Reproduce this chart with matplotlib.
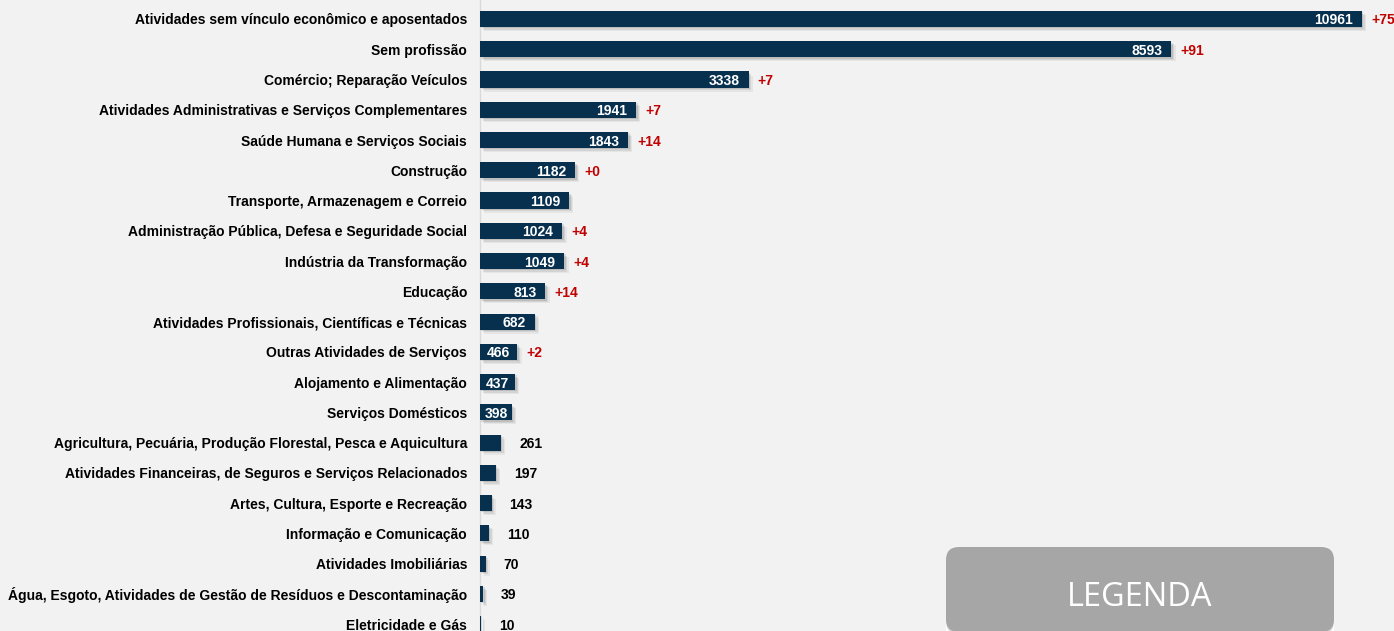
import matplotlib
matplotlib.use("Agg")
import matplotlib.pyplot as plt
import matplotlib.patheffects as pe
from matplotlib.patches import FancyBboxPatch, Rectangle

categories = [
    "Atividades sem vínculo econômico e aposentados",
    "Sem profissão",
    "Comércio; Reparação Veículos",
    "Atividades Administrativas e Serviços Complementares",
    "Saúde Humana e Serviços Sociais",
    "Construção",
    "Transporte, Armazenagem e Correio",
    "Administração Pública, Defesa e Seguridade Social",
    "Indústria da Transformação",
    "Educação",
    "Atividades Profissionais, Científicas e Técnicas",
    "Outras Atividades de Serviços",
    "Alojamento e Alimentação",
    "Serviços Domésticos",
    "Agricultura, Pecuária, Produção Florestal, Pesca e Aquicultura",
    "Atividades Financeiras, de Seguros e Serviços Relacionados",
    "Artes, Cultura, Esporte e Recreação",
    "Informação e Comunicação",
    "Atividades Imobiliárias",
    "Água, Esgoto, Atividades de Gestão de Resíduos e Descontaminação",
    "Eletricidade e Gás",
]
values = [10961, 8593, 3338, 1941, 1843, 1182, 1109, 1024, 1049, 813, 682,
          466, 437, 398, 261, 197, 143, 110, 70, 39, 10]
changes = ["+75", "+91", "+7", "+7", "+14", "+0", "", "+4", "+4", "+14", "",
           "+2", "", "", "", "", "", "", "", "", ""]

W, H, DPI = 1394, 631, 100
BG = "#F2F2F2"
BAR = "#07304F"
RED = "#C00000"
FONT = ["Liberation Sans", "DejaVu Sans"]

fig = plt.figure(figsize=(W / DPI, H / DPI), dpi=DPI, facecolor=BG)
left = 480 / W
ax = fig.add_axes([left, 0, 1 - left, 1], facecolor=BG)

pxu = 882 / 10961  # pixels per unit
ax.set_xlim(0, (W - 480) / pxu)
ax.set_ylim(20.23, -0.628)

soft_shadow = [
    pe.SimplePatchShadow(offset=(3, -3), shadow_rgbFace="#000000", alpha=0.05),
    pe.SimplePatchShadow(offset=(2, -2), shadow_rgbFace="#000000", alpha=0.08),
    pe.SimplePatchShadow(offset=(1, -1), shadow_rgbFace="#000000", alpha=0.10),
    pe.Normal(),
]

ys = list(range(len(categories)))
bars = ax.barh(ys, values, height=0.53, color=BAR, zorder=3)
for b in bars:
    b.set_path_effects(soft_shadow)

ax.set_yticks(ys)
ax.set_yticklabels(categories, fontfamily=FONT, fontweight="bold", fontsize=10, color="#000000")
ax.tick_params(axis="y", length=0, pad=13 * 0.72)
ax.set_xticks([])
for s in ["top", "right", "bottom"]:
    ax.spines[s].set_visible(False)
ax.spines["left"].set_color("#D9D9D9")
ax.spines["left"].set_linewidth(1.0)

pt = 0.72  # points per pixel
for i, (v, c) in enumerate(zip(values, changes)):
    barpx = v * pxu
    if v >= 398:
        tw = len(str(v)) * 7.7
        off = min(9, (barpx - tw) / 2)
        ax.annotate(str(v), xy=(v, i), xytext=(-off * pt, 0), textcoords="offset points",
                    ha="right", va="center_baseline", color="white", fontweight="bold",
                    fontsize=10, fontfamily=FONT, zorder=5)
    else:
        ax.annotate(str(v), xy=(v, i), xytext=(18 * pt, 0), textcoords="offset points",
                    ha="left", va="center_baseline", color="#000000", fontweight="bold",
                    fontsize=10, fontfamily=FONT, zorder=5)
    if c:
        ax.annotate(c, xy=(v, i), xytext=(9 * pt, 0), textcoords="offset points",
                    ha="left", va="center_baseline", color=RED, fontweight="bold",
                    fontsize=10, fontfamily=FONT, zorder=5, annotation_clip=False)

# overlay for legend box
ov = fig.add_axes([0, 0, 1, 1], facecolor="none")
ov.set_xlim(0, W)
ov.set_ylim(H, 0)
ov.axis("off")
ov.add_patch(Rectangle((946, 620), 388, 14, facecolor="white", edgecolor="none", zorder=1))
box = FancyBboxPatch((946, 547), 388, 85, boxstyle="round,pad=0,rounding_size=13",
                     facecolor="#A6A6A6", edgecolor="none", zorder=2)
box.set_path_effects([
    pe.SimplePatchShadow(offset=(0, -2), shadow_rgbFace="#000000", alpha=0.08),
    pe.SimplePatchShadow(offset=(0, -1), shadow_rgbFace="#000000", alpha=0.10),
    pe.Normal()])
ov.add_patch(box)
ov.text(1140, 593, "LEGENDA", ha="center", va="center_baseline", color="white",
        fontsize=23.5, fontfamily=["Open Sans", "DejaVu Sans"], zorder=3)

fig.savefig("out.png", dpi=DPI, facecolor=BG)
